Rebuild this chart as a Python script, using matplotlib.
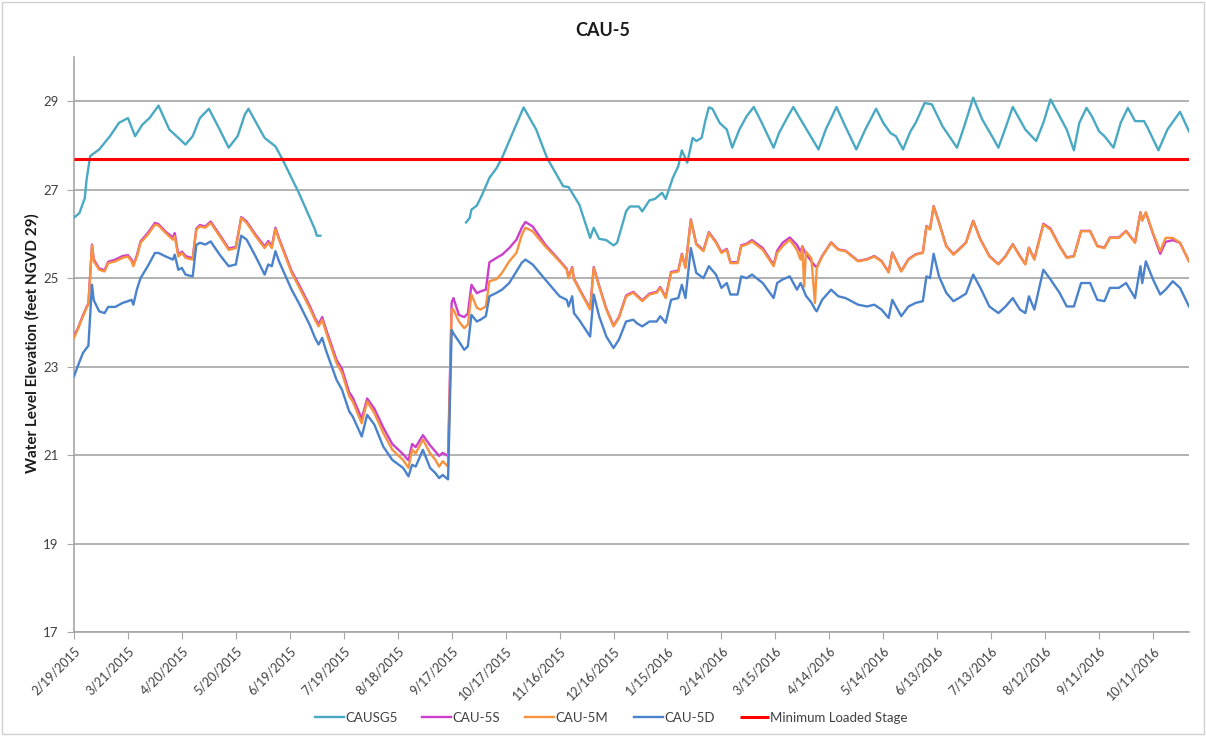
import matplotlib
matplotlib.use("Agg")
import matplotlib.pyplot as plt
from matplotlib.patches import Rectangle
import numpy as np
import pandas as pd

plt.rcParams['font.family'] = ['Lato', 'DejaVu Sans']

# ---------------- data (days since 2/19/2015) ----------------
START = "2015-02-19"
END_DAY = 620
TITLE = "CAU-5"
Y_LABEL = "Water Level Elevation (feet NGVD 29)"
SERIES_NAMES = ["CAUSG5", "CAU-5S", "CAU-5M", "CAU-5D", "Minimum Loaded Stage"]
MIN_LOADED_STAGE = 27.7
Y_TICKS = [17, 19, 21, 23, 25, 27, 29]

# CAUSG5 (staff gauge) - two segments with a data gap
gauge_days_a = [0, 3, 6, 7, 9, 14, 20, 25, 30, 34,
                38, 42, 47, 53, 57, 62, 66, 70, 75, 81,
                86, 91, 95, 97, 106, 112, 116, 125, 134, 135, 137]
gauge_vals_a = [26.37, 26.47, 26.81, 27.23, 27.76, 27.91, 28.21, 28.51, 28.62, 28.21,
                28.47, 28.62, 28.90, 28.36, 28.21, 28.02, 28.21, 28.62, 28.83, 28.36,
                27.95, 28.21, 28.70, 28.83, 28.17, 27.98, 27.68, 26.93, 26.10, 25.96, 25.96]

gauge_days_b = [218, 220, 221, 224, 227, 231, 235, 238, 242, 250,
                257, 263, 272, 275, 281, 287, 289, 292, 296, 300,
                302, 307, 309, 314, 316, 320, 323, 327, 329, 333,
                336, 338, 341, 344, 346, 349, 351, 353, 355, 359,
                363, 366, 370, 374, 378, 382, 389, 392, 397, 400,
                404, 414, 418, 424, 428, 435, 440, 446, 450, 454,
                457, 461, 465, 468, 473, 477, 483, 491, 495, 500,
                505, 511, 514, 518, 522, 529, 535, 539, 543, 547,
                552, 556, 559, 563, 566, 570, 573, 578, 582, 586,
                590, 595, 597, 603, 608, 615, 620]
gauge_vals_b = [26.26, 26.36, 26.55, 26.64, 26.89, 27.27, 27.49, 27.72, 28.10, 28.86,
                28.36, 27.72, 27.08, 27.06, 26.66, 25.91, 26.14, 25.89, 25.86, 25.74,
                25.80, 26.51, 26.62, 26.62, 26.51, 26.76, 26.79, 26.93, 26.79, 27.27,
                27.53, 27.89, 27.61, 28.17, 28.10, 28.17, 28.55, 28.86, 28.83, 28.51,
                28.36, 27.95, 28.36, 28.66, 28.87, 28.55, 27.95, 28.28, 28.66, 28.87,
                28.59, 27.91, 28.36, 28.87, 28.51, 27.91, 28.36, 28.83, 28.51, 28.28,
                28.21, 27.91, 28.31, 28.51, 28.96, 28.93, 28.43, 27.95, 28.43, 29.08,
                28.59, 28.17, 27.95, 28.40, 28.87, 28.36, 28.10, 28.51, 29.04, 28.74,
                28.36, 27.89, 28.51, 28.85, 28.66, 28.32, 28.21, 27.95, 28.51, 28.85,
                28.55, 28.55, 28.40, 27.89, 28.36, 28.76, 28.32]

# Monitoring wells CAU-5S / 5M / 5D
well_days = [0, 2, 5, 7, 8, 10, 11, 14, 17, 19,
             23, 27, 30, 32, 33, 35, 37, 41, 45, 47,
             51, 55, 56, 58, 60, 62, 66, 68, 70, 73,
             76, 81, 86, 90, 93, 96, 101, 106, 108, 110,
             112, 114, 121, 125, 131, 134, 136, 138, 140, 146,
             149, 153, 155, 160, 163, 167, 172, 177, 183, 186,
             188, 190, 194, 198, 201, 203, 205, 208, 209, 210,
             211, 214, 217, 219, 221, 224, 226, 229, 231, 235,
             238, 242, 246, 249, 251, 255, 262, 270, 274, 275,
             277, 278, 281, 287, 289, 292, 296, 300, 303, 307,
             311, 313, 316, 320, 324, 326, 329, 332, 336, 338,
             340, 343, 346, 350, 353, 357, 360, 363, 365, 369,
             371, 374, 377, 383, 389, 391, 394, 398, 402, 404,
             405, 406, 407, 410, 412, 413, 416, 421, 425, 429,
             436, 441, 445, 449, 453, 455, 460, 464, 468, 472,
             474, 476, 478, 481, 485, 489, 492, 496, 500, 504,
             509, 514, 518, 522, 526, 529, 531, 534, 539, 543,
             548, 552, 556, 560, 565, 569, 573, 576, 581, 585,
             590, 593, 594, 596, 600, 604, 607, 611, 615, 620]

cau5m_vals = [23.65, 23.83, 24.14, 24.33, 24.40, 25.74, 25.38, 25.19, 25.15, 25.34,
              25.38, 25.46, 25.49, 25.38, 25.27, 25.49, 25.80, 25.98, 26.21, 26.19,
              26.02, 25.87, 25.95, 25.49, 25.57, 25.46, 25.42, 26.10, 26.17, 26.14,
              26.25, 25.95, 25.64, 25.68, 26.36, 26.25, 25.95, 25.68, 25.80, 25.68,
              26.11, 25.87, 25.12, 24.81, 24.33, 24.06, 23.91, 24.06, 23.80, 23.08,
              22.86, 22.33, 22.21, 21.72, 22.21, 21.95, 21.50, 21.12, 20.89, 20.71,
              21.12, 21.04, 21.35, 21.04, 20.89, 20.74, 20.86, 20.74, 22.50, 24.29,
              24.29, 24.02, 23.87, 23.95, 24.63, 24.33, 24.29, 24.36, 24.93, 24.98,
              25.12, 25.38, 25.57, 25.98, 26.14, 26.06, 25.72, 25.38, 25.19, 25.00,
              25.23, 24.97, 24.74, 24.29, 25.23, 24.81, 24.29, 23.91, 24.10, 24.59,
              24.67, 24.59, 24.48, 24.63, 24.67, 24.78, 24.55, 25.12, 25.15, 25.53,
              25.23, 26.31, 25.76, 25.61, 26.02, 25.80, 25.57, 25.64, 25.34, 25.34,
              25.72, 25.76, 25.83, 25.64, 25.27, 25.57, 25.72, 25.87, 25.64, 25.42,
              25.72, 24.81, 25.60, 25.45, 24.44, 25.23, 25.49, 25.80, 25.64, 25.61,
              25.38, 25.42, 25.49, 25.38, 25.13, 25.57, 25.15, 25.42, 25.53, 25.57,
              26.17, 26.10, 26.62, 26.25, 25.72, 25.53, 25.64, 25.80, 26.29, 25.87,
              25.49, 25.31, 25.49, 25.76, 25.49, 25.31, 25.68, 25.42, 26.21, 26.10,
              25.72, 25.46, 25.49, 26.06, 26.06, 25.72, 25.68, 25.91, 25.91, 26.06,
              25.80, 26.48, 26.30, 26.49, 26.02, 25.61, 25.91, 25.91, 25.80, 25.38]

cau5s_vals = [23.70, 23.85, 24.16, 24.35, 24.42, 25.76, 25.42, 25.22, 25.18, 25.37,
              25.42, 25.50, 25.52, 25.42, 25.30, 25.52, 25.83, 26.02, 26.25, 26.22,
              26.05, 25.92, 26.02, 25.53, 25.60, 25.50, 25.45, 26.12, 26.20, 26.17,
              26.28, 25.98, 25.67, 25.71, 26.38, 26.28, 25.98, 25.72, 25.84, 25.72,
              26.14, 25.90, 25.16, 24.86, 24.38, 24.10, 23.96, 24.12, 23.86, 23.15,
              22.95, 22.42, 22.30, 21.82, 22.28, 22.05, 21.62, 21.25, 21.02, 20.88,
              21.25, 21.18, 21.45, 21.22, 21.08, 20.98, 21.05, 20.98, 22.70, 24.45,
              24.55, 24.17, 24.12, 24.20, 24.85, 24.66, 24.70, 24.74, 25.36, 25.46,
              25.53, 25.68, 25.87, 26.14, 26.27, 26.17, 25.76, 25.40, 25.21, 25.02,
              25.25, 24.99, 24.76, 24.31, 25.25, 24.83, 24.31, 23.93, 24.12, 24.61,
              24.69, 24.61, 24.50, 24.65, 24.69, 24.80, 24.57, 25.14, 25.17, 25.55,
              25.25, 26.33, 25.78, 25.63, 26.04, 25.82, 25.59, 25.66, 25.36, 25.36,
              25.74, 25.78, 25.86, 25.68, 25.30, 25.62, 25.80, 25.92, 25.75, 25.60,
              25.72, 25.62, 25.55, 25.38, 25.28, 25.25, 25.50, 25.81, 25.65, 25.62,
              25.39, 25.43, 25.50, 25.39, 25.14, 25.58, 25.16, 25.43, 25.54, 25.58,
              26.18, 26.11, 26.63, 26.26, 25.73, 25.54, 25.65, 25.81, 26.30, 25.88,
              25.50, 25.32, 25.50, 25.77, 25.50, 25.32, 25.69, 25.43, 26.23, 26.12,
              25.73, 25.47, 25.50, 26.07, 26.07, 25.73, 25.69, 25.92, 25.92, 26.07,
              25.81, 26.49, 26.31, 26.48, 26.00, 25.55, 25.82, 25.86, 25.80, 25.38]

cau5d_vals = [22.78, 23.00, 23.31, 23.42, 23.47, 24.85, 24.50, 24.25, 24.21, 24.35,
              24.35, 24.44, 24.48, 24.51, 24.40, 24.75, 25.00, 25.27, 25.57, 25.57,
              25.49, 25.42, 25.53, 25.19, 25.23, 25.08, 25.04, 25.75, 25.80, 25.76,
              25.83, 25.53, 25.27, 25.31, 25.96, 25.87, 25.49, 25.08, 25.31, 25.27,
              25.61, 25.38, 24.74, 24.44, 23.95, 23.65, 23.50, 23.65, 23.38, 22.70,
              22.48, 21.99, 21.87, 21.42, 21.91, 21.69, 21.19, 20.89, 20.71, 20.52,
              20.78, 20.74, 21.12, 20.71, 20.59, 20.48, 20.55, 20.45, 22.10, 23.83,
              23.75, 23.57, 23.38, 23.46, 24.17, 24.02, 24.06, 24.14, 24.59, 24.67,
              24.74, 24.89, 25.15, 25.35, 25.42, 25.31, 24.97, 24.59, 24.51, 24.36,
              24.59, 24.21, 24.05, 23.68, 24.63, 24.14, 23.68, 23.42, 23.61, 24.02,
              24.06, 23.98, 23.91, 24.02, 24.02, 24.14, 23.99, 24.51, 24.55, 24.85,
              24.55, 25.68, 25.12, 25.00, 25.27, 25.08, 24.78, 24.89, 24.63, 24.63,
              25.04, 25.00, 25.08, 24.89, 24.55, 24.89, 24.97, 25.04, 24.74, 24.89,
              24.80, 24.70, 24.60, 24.45, 24.30, 24.25, 24.51, 24.74, 24.59, 24.55,
              24.40, 24.36, 24.40, 24.29, 24.10, 24.51, 24.14, 24.36, 24.44, 24.48,
              25.04, 25.00, 25.55, 25.04, 24.67, 24.48, 24.55, 24.65, 25.08, 24.78,
              24.36, 24.21, 24.36, 24.55, 24.29, 24.21, 24.59, 24.29, 25.19, 24.97,
              24.67, 24.36, 24.36, 24.89, 24.89, 24.51, 24.48, 24.78, 24.78, 24.89,
              24.55, 25.27, 24.89, 25.38, 24.97, 24.63, 24.74, 24.93, 24.78, 24.36]

# ---------------- styling ----------------
C_GAUGE = "#4aa9c2"
C_5S = "#cc3fcc"
C_5M = "#f7923f"
C_5D = "#4a82cc"
C_MIN = "#ff0000"
GRID = "#a6a6a6"
TXT = "#404040"


def to_dates(days):
    return pd.Timestamp(START) + pd.to_timedelta(np.asarray(days), unit="D")


fig = plt.figure(figsize=(12.06, 7.36), dpi=100)
ax = fig.add_axes([74 / 1206, 1 - 632 / 736, (1189 - 74) / 1206, (632 - 57) / 736])

lw = 1.7
ax.plot(to_dates(gauge_days_a), gauge_vals_a, color=C_GAUGE, lw=lw, label=SERIES_NAMES[0], zorder=3)
ax.plot(to_dates(gauge_days_b), gauge_vals_b, color=C_GAUGE, lw=lw, zorder=3)
ax.plot(to_dates(well_days), cau5s_vals, color=C_5S, lw=lw, label=SERIES_NAMES[1], zorder=3)
ax.plot(to_dates(well_days), cau5m_vals, color=C_5M, lw=lw, label=SERIES_NAMES[2], zorder=4)
ax.plot(to_dates(well_days), cau5d_vals, color=C_5D, lw=lw, label=SERIES_NAMES[3], zorder=4)
ax.plot(to_dates([0, END_DAY]), [MIN_LOADED_STAGE, MIN_LOADED_STAGE], color=C_MIN, lw=2.2,
        label=SERIES_NAMES[4], zorder=5, solid_capstyle="butt")

# axes limits & ticks
ax.set_xlim(to_dates([0])[0], to_dates([END_DAY])[0])
ax.set_ylim(17, 30)
ax.set_yticks(Y_TICKS)
ax.yaxis.grid(True, color=GRID, lw=1.2)
ax.set_axisbelow(True)

tick_dates = pd.date_range(START, periods=21, freq="30D")
ax.set_xticks(tick_dates)
ax.set_xticklabels([f"{d.month}/{d.day}/{d.year}" for d in tick_dates],
                   rotation=45, ha="right", va="top", rotation_mode="anchor",
                   fontsize=9, color=TXT)
ax.tick_params(axis="x", direction="out", length=5, color=GRID, pad=4)
ax.tick_params(axis="y", direction="out", length=5, color=GRID, labelsize=9.5,
               labelcolor=TXT, pad=6)

for s in ["top", "right"]:
    ax.spines[s].set_visible(False)
for s in ["left", "bottom"]:
    ax.spines[s].set_color(GRID)
    ax.spines[s].set_linewidth(1.2)

ax.set_ylabel(Y_LABEL, fontsize=11, fontweight="bold", color="#1a1a1a")
ax.yaxis.set_label_coords(-(74 - 40) / (1189 - 74), (632 - 343) / (632 - 57))
fig.text(0.5, 1 - 30 / 736, TITLE, ha="center", va="center", fontsize=13,
         fontweight="bold", color="#1a1a1a")

leg = fig.legend(loc="center", bbox_to_anchor=(611 / 1206, 1 - 718 / 736), ncol=5,
                 frameon=False, fontsize=9.5, handlelength=2.2, handletextpad=0.1,
                 columnspacing=1.9)
for t in leg.get_texts():
    t.set_color(TXT)

# outer chart border
fig.patches.append(Rectangle((0.002, 0.003), 0.996, 0.994, transform=fig.transFigure,
                             fill=False, edgecolor="#d0d0d0", lw=1.0))

fig.savefig("out.png", dpi=100, facecolor="white")
